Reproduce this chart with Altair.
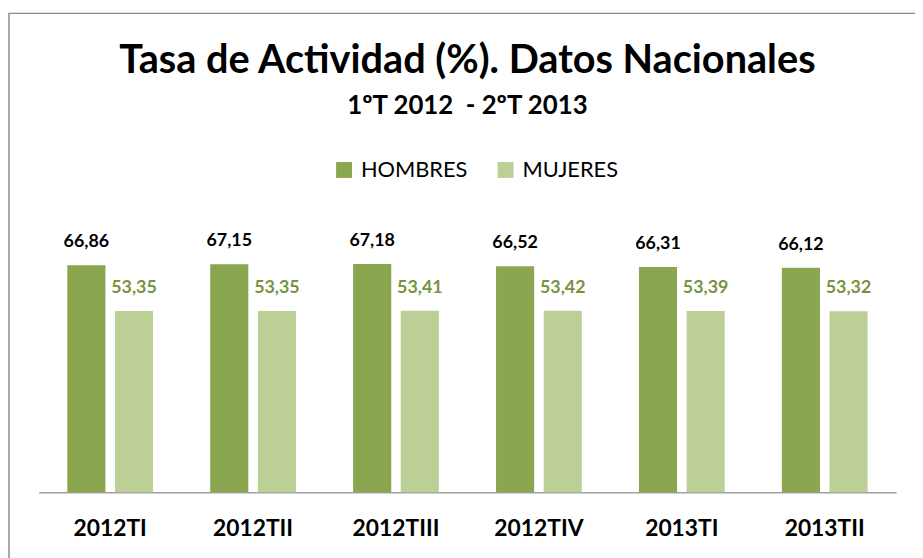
import altair as alt
import pandas as pd

quarters = ["2012TI", "2012TII", "2012TIII", "2012TIV", "2013TI", "2013TII"]
hombres = [66.86, 67.15, 67.18, 66.52, 66.31, 66.12]
mujeres = [53.35, 53.35, 53.41, 53.42, 53.39, 53.32]
series = ["HOMBRES", "MUJERES"]
colors = ["#8AA64F", "#BBCF97"]

rows = []
for q, h, m in zip(quarters, hombres, mujeres):
    rows.append({"q": q, "s": "HOMBRES", "v": h, "lbl": f"{h:.2f}".replace(".", ",")})
    rows.append({"q": q, "s": "MUJERES", "v": m, "lbl": f"{m:.2f}".replace(".", ",")})
df = pd.DataFrame(rows)

FONT = "Lato"

x = alt.X("q:N", sort=quarters, title=None,
          scale=alt.Scale(paddingInner=0.4, paddingOuter=0.2),
          axis=alt.Axis(labelAngle=0, labelFont=FONT, labelFontSize=23, labelFontWeight="bold",
                        labelColor="#000000", labelPadding=26, ticks=False, domainColor="#A0A0A0",
                        domainWidth=1.5))
xo = alt.XOffset("s:N", sort=series, scale=alt.Scale(paddingInner=0.2, paddingOuter=0))
y = alt.Y("v:Q", scale=alt.Scale(domain=[0, 80], nice=False, zero=True), axis=None)

base = alt.Chart(df)

frame = base.mark_rect(fill="transparent", stroke="#8C8C8C", strokeWidth=1.5).encode(
    x=alt.value(-30), x2=alt.value(900), y=alt.value(-209), y2=alt.value(400)
).transform_filter(alt.datum.q == "2012TI").transform_filter(alt.datum.s == "HOMBRES")

bars = base.mark_bar().encode(
    x=x, xOffset=xo, y=y,
    color=alt.Color("s:N", sort=series, scale=alt.Scale(domain=series, range=colors),
                    legend=alt.Legend(title=None, orient="none", legendX=297, legendY=-62,
                                      direction="horizontal", symbolType="square", symbolSize=256,
                                      symbolStrokeWidth=0, labelFont=FONT, labelFontSize=22,
                                      labelColor="#000000", labelOffset=6, columnPadding=27)),
)

lbl_h = base.mark_text(font=FONT, fontSize=18, fontWeight="bold", color="#000000",
                       baseline="alphabetic", dy=-18).encode(
    x=x, xOffset=xo, y=y, text="lbl:N"
).transform_filter(alt.datum.s == "HOMBRES")

lbl_m = base.mark_text(font=FONT, fontSize=18, fontWeight="bold", color="#77933C",
                       baseline="alphabetic", dy=-18).encode(
    x=x, xOffset=xo, y=y, text="lbl:N"
).transform_filter(alt.datum.s == "MUJERES")

chart = alt.layer(frame, bars, lbl_h, lbl_m).properties(
    width=865, height=274,
    padding={"left": 31, "top": 212, "right": 19, "bottom": 64},
    autosize=alt.AutoSizeParams(type="none"),
    title=alt.TitleParams(
        text="Tasa de Actividad (%). Datos Nacionales",
        subtitle="1ºT 2012\u00a0 - 2ºT 2013",
        anchor="middle", frame="group", font=FONT, fontSize=40, fontWeight="bold", color="#000000",
        subtitleFont=FONT, subtitleFontSize=26, subtitleFontWeight="bold", subtitleColor="#000000",
        subtitlePadding=12, offset=-107,
    ),
).configure_view(stroke=None)

chart.save("out.html", embed_options={"renderer": "svg", "actions": False})
